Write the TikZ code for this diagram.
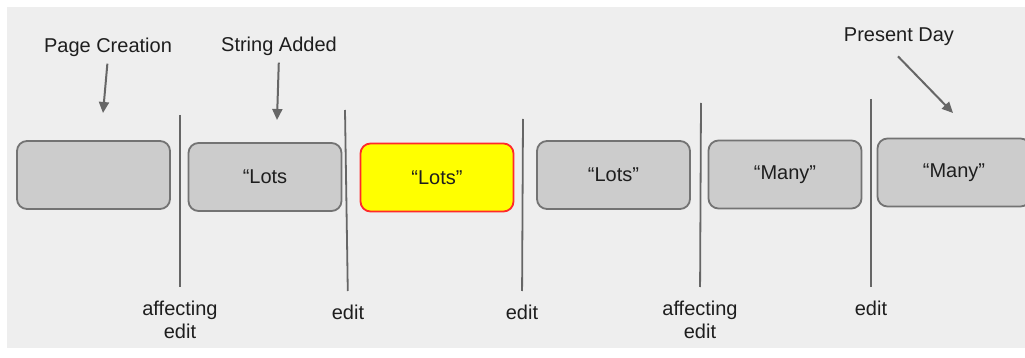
\documentclass[tikz,border=0pt]{standalone}
\usepackage{fontspec}
\setmainfont{Liberation Sans}
\usetikzlibrary{arrows.meta}
\definecolor{bg}{HTML}{EEEEEE}
\definecolor{boxfill}{HTML}{CCCCCC}
\definecolor{boxline}{HTML}{737373}
\definecolor{rule}{HTML}{666666}
\definecolor{ink}{HTML}{1E1E1E}
\definecolor{hlfill}{HTML}{FFFF00}
\definecolor{hlline}{HTML}{FF2A2A}

\begin{document}
\begin{tikzpicture}[x=0.5pt,y=-0.5pt,
  every node/.style={font=\fontsize{10}{11.5}\selectfont, text=ink},
  state/.style={draw=boxline, fill=boxfill, line width=0.9pt, rounded corners=5pt,
    minimum width=76.5pt, minimum height=34pt, inner sep=0pt},
  current/.style={state, draw=hlline, fill=hlfill},
  caption/.style={inner sep=0pt, align=center},
  divider/.style={draw=rule, line width=0.9pt, shorten >=7pt},
  pointer/.style={draw=rule, line width=1pt, -{Triangle[length=5.5pt,width=5pt]}},
]
\useasboundingbox (0,0) rectangle (1025,358);
\clip (0,0) rectangle (1025,358);
\fill[white] (0,0) rectangle (1025,358);
\fill[bg] (7,7) rectangle (1025,348);

% page states along the timeline
\node[state]   (s1) at (93.5,175)  {};
\node[state]   (s2) at (265,177)   {“Lots};
\node[current] (s3) at (437,177.5) {“Lots”};
\node[state]   (s4) at (613.5,175) {“Lots”};
\node[state]   (s5) at (785,174.5) {“Many”};
\node[state]   (s6) at (954,172.5) {“Many”};

% edit separators and their captions
\coordinate (d1) at (180,115);
\coordinate (d2) at (345,110);
\coordinate (d3) at (523,119);
\coordinate (d4) at (701,103);
\coordinate (d5) at (871,99);
\node[caption, anchor=north] (e1) at (180,301) {affecting\\edit};
\node[caption, anchor=north] (e2) at (348,305) {edit};
\node[caption, anchor=north] (e3) at (522,305) {edit};
\node[caption, anchor=north] (e4) at (700,301) {affecting\\edit};
\node[caption, anchor=north] (e5) at (871,301) {edit};
\draw[divider] (d1) -- (e1.north);
\draw[divider] (d2) -- (e2.north);
\draw[divider] (d3) -- (e3.north);
\draw[divider] (d4) -- (e4.north);
\draw[divider] (d5) -- (e5.north);

% milestone labels with pointers
\node[caption] (pc) at (108,47) {Page Creation};
\node[caption] (sa) at (279,46) {String Added};
\node[caption] (pd) at (899,37) {Present Day};
\coordinate (pctip) at (103,113);
\coordinate (satip) at (277,120);
\coordinate (pdtip) at (953,113);
\draw[pointer, shorten <=3.5pt] (pc.south) -- (pctip);
\draw[pointer, shorten <=3.5pt] (sa.south) -- (satip);
\draw[pointer] ([xshift=-0.5pt,yshift=-5pt]pd.south) -- (pdtip);
\end{tikzpicture}
\end{document}
